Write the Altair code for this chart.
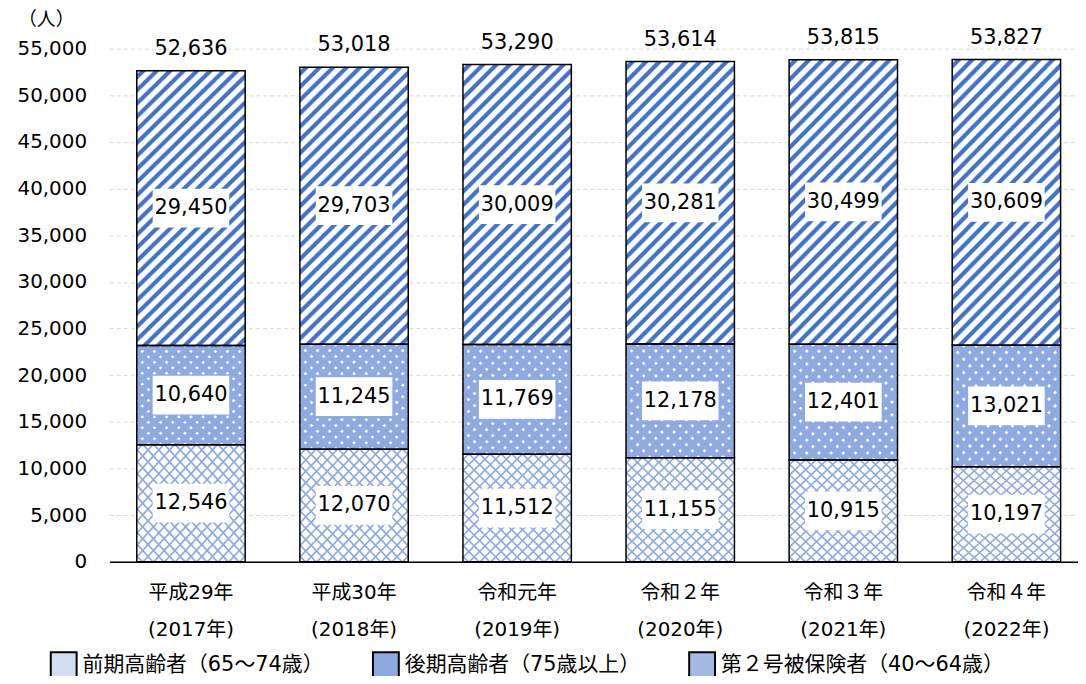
import altair as alt
import pandas as pd

# ---- data ----
years = ["平成29年|(2017年)", "平成30年|(2018年)", "令和元年|(2019年)",
         "令和２年|(2020年)", "令和３年|(2021年)", "令和４年|(2022年)"]
series_names = ["前期高齢者（65～74歳）", "後期高齢者（75歳以上）", "第２号被保険者（40～64歳）"]
zenki = [12546, 12070, 11512, 11155, 10915, 10197]
kouki = [10640, 11245, 11769, 12178, 12401, 13021]
dai2 = [29450, 29703, 30009, 30281, 30499, 30609]
y_ticks = list(range(0, 55001, 5000))

rows = []
for i, y in enumerate(years):
    for k, (name, vals) in enumerate(zip(series_names, [zenki, kouki, dai2])):
        rows.append({"year": y, "series": name, "order": k, "value": vals[i]})
df = pd.DataFrame(rows)

# ---- pattern helpers (styles only) ----
def stripe_gradient(direction, n, line_frac, line_color, gap_color, w, h, edge_frac):
    s = (w + h) / (w * w + h * h)
    if direction == "/":
        x1, y1, x2, y2 = 0, 0, s * w, s * h
    else:
        x1, y1, x2, y2 = 0, 1, s * w, 1 - s * h
    stops = [{"offset": 0, "color": gap_color}]
    hw = line_frac / (2 * n)
    e = edge_frac / (2 * n)
    for i in range(n):
        c = (i + 0.5) / n
        for off, col in [(c - hw - e, gap_color), (c - hw + e, line_color),
                         (c + hw - e, line_color), (c + hw + e, gap_color)]:
            stops.append({"offset": round(off, 5), "color": col})
    stops.append({"offset": 1, "color": gap_color})
    return {"gradient": "linear", "x1": x1, "y1": y1, "x2": round(x2, 5),
            "y2": round(y2, 5), "stops": stops}

BW = 109.0
PX = 516.0 / 55000.0
h_top = sum(dai2) / len(dai2) * PX
h_bot = sum(zenki) / len(zenki) * PX
h_mid = sum(kouki) / len(kouki) * PX

def n_for(h, period):
    return max(1, round((BW + h) / (2 ** 0.5) / period))

STRIPE = "#4472C4"
grad_top = stripe_gradient("/", n_for(h_top, 9.4), 0.44, STRIPE, "#ffffff", BW, h_top, 0.14)

HATCH = "#8FAAE0"
grad_bot_a = stripe_gradient("/", n_for(h_bot, 7.8), 0.22, HATCH, "#ffffff", BW, h_bot, 0.14)
grad_bot_b = stripe_gradient("\\", n_for(h_bot, 7.8), 0.22, HATCH, "rgba(143,170,224,0)", BW, h_bot, 0.14)

DOT = "#8EAAE0"
grad_mid_a = stripe_gradient("/", n_for(h_mid, 8.5), 0.70, DOT, "#ffffff", BW, h_mid, 0.12)
grad_mid_b = stripe_gradient("\\", n_for(h_mid, 8.5), 0.70, DOT, "rgba(142,170,224,0)", BW, h_mid, 0.12)

legend_colors = ["#D3DDF2", "#8EA9DE", "#A4BAE4"]

NUM_FONT = "DejaVu Sans"
JP_FONT = "DejaVu Sans, Noto Sans CJK JP"

x_axis = alt.Axis(title=None, labelAngle=0, ticks=False, grid=False,
                  domainColor="black", domainWidth=1.5,
                  labelExpr="split(datum.label, '|')",
                  labelFont=JP_FONT, labelFontSize=20, labelColor="black",
                  labelFontWeight="normal",
                  labelLineHeight=37, labelBaseline="top", labelPadding=21)
x_scale = alt.Scale(range=[0, 984], paddingInner=0.3354, paddingOuter=0.1677)
x_enc = alt.X("year:N", sort=years, scale=x_scale, axis=x_axis)

y_scale = alt.Scale(domain=[0, 55000], nice=False)
y_axis = alt.Axis(values=y_ticks, labelExpr="format(datum.value, ',')",
                  ticks=False, domain=False,
                  labelFont=NUM_FONT, labelFontSize=20, labelColor="black",
                  labelFontWeight="normal",
                  labelPadding=23, gridColor="#D9D9D9", gridDash=[4, 3],
                  gridWidth=1, title="（人）", titleAngle=0, titleX=-64,
                  titleY=-29, titleAlign="center", titleBaseline="middle",
                  titleFont=JP_FONT, titleFontSize=19, titleFontWeight="normal",
                  titleColor="black")

def y_of(field):
    return alt.Y(field, scale=y_scale, axis=y_axis, title="（人）")

base = alt.Chart(df).transform_stack(
    stack="value", groupby=["year"], as_=["y0", "y1"],
    sort=[alt.SortField("order", order="ascending")],
).transform_calculate(mid="(datum.y0 + datum.y1) / 2")

bars = base.mark_bar(strokeWidth=0).encode(
    x=x_enc, y=y_of("y1:Q"), y2="y0:Q",
    fill=alt.Fill(
        "series:N",
        scale=alt.Scale(domain=series_names, range=legend_colors),
        legend=alt.Legend(orient="none", legendX=-60, legendY=606,
                          direction="horizontal", title=None,
                          symbolType="square", symbolSize=676,
                          symbolStrokeColor="black", symbolStrokeWidth=2,
                          symbolOpacity=1, labelLimit=500,
                          labelFont=JP_FONT, labelFontSize=21,
                          labelFontWeight="normal",
                          labelColor="black", labelOffset=5,
                          columnPadding=45),
    ),
)

def overlay(name, grad):
    return base.transform_filter(alt.datum.series == name).mark_bar(
        fill=grad, strokeWidth=0
    ).encode(x=x_enc, y=y_of("y1:Q"), y2="y0:Q")

layers = [
    bars,
    overlay(series_names[0], grad_bot_a),
    overlay(series_names[0], grad_bot_b),
    overlay(series_names[1], grad_mid_a),
    overlay(series_names[1], grad_mid_b),
    overlay(series_names[2], grad_top),
]

outline = base.mark_bar(fillOpacity=0, stroke="black", strokeWidth=1.5).encode(
    x=x_enc, y=y_of("y1:Q"), y2="y0:Q"
)

box_path = "M-1,-0.506L1,-0.506L1,0.506L-1,0.506Z"
label_bg = base.mark_point(
    shape=box_path, size=5929, filled=True, fill="white", opacity=1, strokeWidth=0
).encode(x=x_enc, y=y_of("mid:Q"))

seg_text = base.mark_text(
    font=NUM_FONT, fontSize=21, color="black", baseline="middle", align="center"
).encode(x=x_enc, y=y_of("mid:Q"), text=alt.Text("value:Q", format=","))

totals = alt.Chart(df).transform_aggregate(
    total="sum(value)", groupby=["year"]
).mark_text(
    font=NUM_FONT, fontSize=21, color="black", baseline="alphabetic",
    align="center", dy=-16
).encode(x=x_enc, y=y_of("total:Q"), text=alt.Text("total:Q", format=","))

chart = alt.layer(*layers, outline, label_bg, seg_text, totals).properties(
    width=974, height=516,
    padding={"left": 102, "top": 39, "right": 0, "bottom": 113},
    autosize=alt.AutoSizeParams(type="none"),
).configure_view(stroke=None)

chart.save("out.html", embed_options={"renderer": "svg", "actions": False})
